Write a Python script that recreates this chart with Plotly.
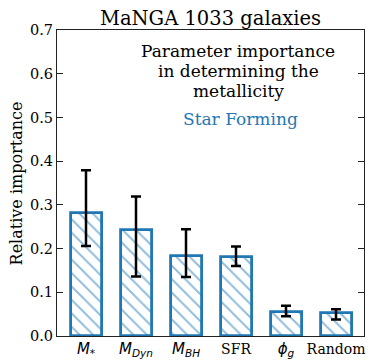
import plotly.graph_objects as go

categories = ["M*", "MDyn", "MBH", "SFR", "phi_g", "Random"]
math = "font-family:DejaVu Sans;font-size:15px"
tick_labels = [
    f"<span style='{math}'><i>M</i><sub>*</sub></span>",
    f"<span style='{math}'><i>M</i><sub><i>Dyn</i></sub></span>",
    f"<span style='{math}'><i>M</i><sub><i>BH</i></sub></span>",
    "SFR",
    f"<span style='{math}'><i>ϕ</i><sub><i>g</i></sub></span>",
    "Random",
]
importance = [0.282, 0.243, 0.182, 0.180, 0.056, 0.053]
err_upper = [0.379, 0.319, 0.244, 0.205, 0.069, 0.061]
err_lower = [0.206, 0.136, 0.135, 0.160, 0.045, 0.038]
y_ticks = [0, 0.1, 0.2, 0.3, 0.4, 0.5, 0.6, 0.7]
note_lines = ["Parameter importance", "in determining the", "metallicity"]

plus = [u - v for u, v in zip(err_upper, importance)]
minus = [v - l for v, l in zip(importance, err_lower)]

blue = "#1f77b4"
serif = "DejaVu Serif, Liberation Serif, serif"

# page body has an 8px margin; the figure is sized so that it fills the 374x364 window
W, H = 366, 356
L, R, T, B = 49, 10, 21.5, 28.3
pw, ph = W - L - R, H - T - B


def py(y_ref):  # reference-pixel y (window) -> paper y
    return (H - B + 8 - y_ref) / ph


def px(x_ref):  # reference-pixel x (window) -> paper x
    return (x_ref - 8 - L) / pw


fig = go.Figure()
fig.add_trace(go.Bar(
    x=list(range(len(categories))),
    y=importance,
    width=0.62,
    marker=dict(
        color="white",
        line=dict(color=blue, width=2.8),
        pattern=dict(shape="\\", fgcolor=blue, bgcolor="white", size=9.5, solidity=0.2),
    ),
    error_y=dict(type="data", symmetric=False, array=plus, arrayminus=minus,
                 color="black", thickness=2.5, width=5),
    showlegend=False,
))

fig.update_layout(
    width=W, height=H,
    margin=dict(l=L, r=R, t=T, b=B, autoexpand=False),
    paper_bgcolor="white", plot_bgcolor="white",
    font=dict(family=serif, size=15, color="black"),
    title=dict(text="MaNGA 1033 galaxies", x=(210.5 - 8) / W, xanchor="center",
               y=1 - 10 / H, yanchor="middle",
               font=dict(family=serif, size=19.5, color="black")),
    bargap=0,
)
fig.update_xaxes(
    range=[-0.58, 5.56],
    tickmode="array", tickvals=list(range(len(categories))), ticktext=tick_labels,
    tickfont=dict(family=serif, size=14, color="black"),
    showline=True, linecolor="#222", linewidth=1, mirror=True,
    ticks="", showgrid=False, zeroline=False, automargin=False,
)
fig.update_yaxes(
    range=[0, 0.7], tickvals=y_ticks,
    tickformat=".1f",
    tickfont=dict(family=serif, size=14.5, color="black"),
    showline=True, linecolor="#222", linewidth=1, mirror="ticks",
    ticks="inside", ticklen=6, tickcolor="#222",
    showgrid=False, zeroline=False, automargin=False,
)

fig.add_annotation(
    xref="paper", yref="paper", x=px(16.5), y=py(183.5),
    text="Relative importance", textangle=-90,
    showarrow=False, xanchor="center", yanchor="middle",
    font=dict(family=serif, size=16, color="black"),
)
for line, yy in zip(note_lines, [51, 71, 91]):
    fig.add_annotation(
        xref="paper", yref="paper", x=px(238), y=py(yy),
        text=line, showarrow=False, xanchor="center", yanchor="middle",
        font=dict(family=serif, size=17, color="black"),
    )
fig.add_annotation(
    xref="paper", yref="paper", x=px(240), y=py(119),
    text="Star Forming", showarrow=False, xanchor="center", yanchor="middle",
    font=dict(family=serif, size=17, color=blue),
)

fig.write_html("out.html")
